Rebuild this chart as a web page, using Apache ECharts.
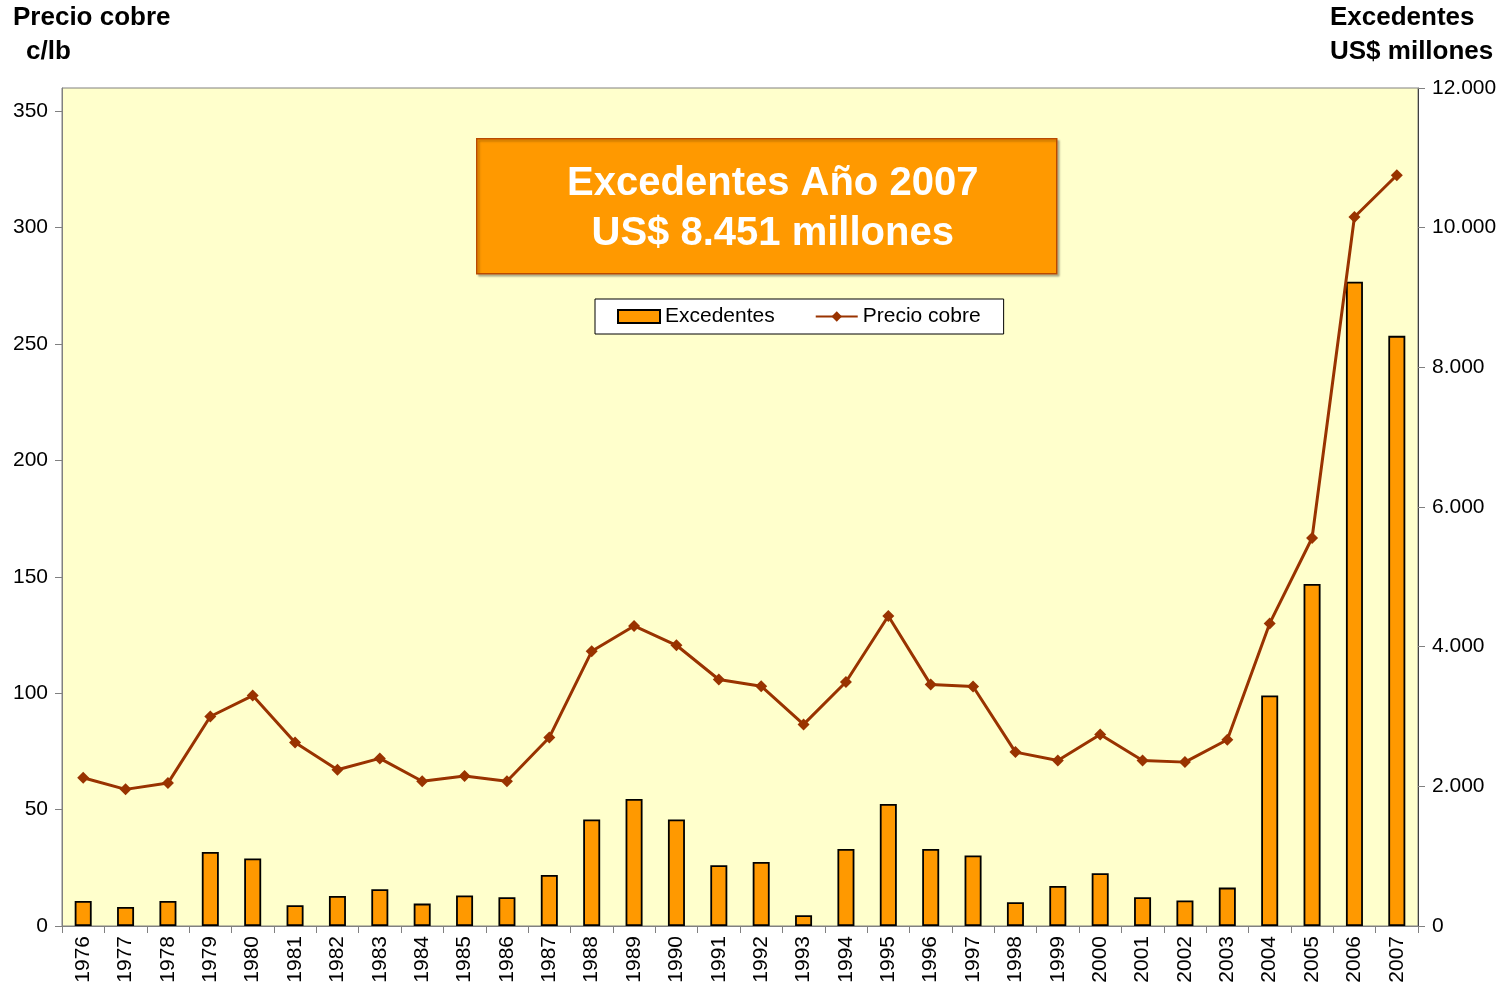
<!DOCTYPE html>
<html>
<head>
<meta charset="utf-8">
<script src="https://cdn.jsdelivr.net/npm/echarts@6/dist/echarts.min.js"></script>
<style>
  html, body { margin: 0; padding: 0; background: #fff; }
  #chart { width: 1503px; height: 990px; }
</style>
</head>
<body>
<div id="chart"></div>
<script>
const years = ['1976', '1977', '1978', '1979', '1980', '1981', '1982', '1983', '1984', '1985',
  '1986', '1987', '1988', '1989', '1990', '1991', '1992', '1993', '1994', '1995', '1996',
  '1997', '1998', '1999', '2000', '2001', '2002', '2003', '2004', '2005', '2006', '2007']

// Excedentes, US$ millones (right axis)
const excedentes = [358, 272, 358, 1060, 966, 297, 430, 526, 321, 436,
  411, 731, 1525, 1820, 1525, 870, 917, 153, 1103, 1748, 1103,
  1009, 340, 573, 755, 411, 366, 550, 3302, 4897, 9225, 8451]

// Precio cobre, c/lb (left axis)
const precioCobre = [63.7, 58.7, 61.4, 90.0, 99.0, 78.8, 67.1, 72.0, 62.2, 64.4,
  62.2, 81.0, 118.0, 128.9, 120.6, 105.9, 103.0, 86.6, 104.8, 133.2, 103.7,
  102.9, 74.7, 71.1, 82.3, 71.1, 70.4, 80.0, 130.0, 166.7, 304.6, 322.5]

const leftTicks = [0, 50, 100, 150, 200, 250, 300, 350]
const rightTicks = [0, 2000, 4000, 6000, 8000, 10000, 12000]

const font = '"Liberation Sans", Arial, sans-serif'
const axisColor = '#808080'

const chart = echarts.init(document.getElementById('chart'))

const option = {
  animation: false,
  textStyle: { fontFamily: font },
  grid: {
    left: 62, right: 85, top: 88, bottom: 64,
    show: true,
    backgroundColor: '#FFFFCC',
    borderColor: axisColor,
    borderWidth: 1,
  },
  legend: {
    left: 595,
    top: 299,
    padding: [7, 23, 7, 22],
    itemGap: 40,
    itemWidth: 42,
    itemHeight: 13,
    backgroundColor: '#ffffff',
    borderColor: '#000000',
    borderWidth: 1,
    borderRadius: 0,
    textStyle: { fontFamily: font, fontSize: 21, color: '#000' },
    data: [{ name: 'Excedentes', icon: 'rect' }, { name: 'Precio cobre' }],
  },
  xAxis: {
    type: 'category',
    data: years,
    boundaryGap: true,
    axisLine: { lineStyle: { color: axisColor, width: 1 } },
    axisTick: { show: true, length: 7, lineStyle: { color: axisColor } },
    axisLabel: { rotate: 90, fontSize: 21, color: '#000', margin: 10, interval: 0 },
    splitLine: { show: false },
  },
  yAxis: [
    {
      type: 'value',
      min: 0,
      max: 360,
      interval: 50,
      position: 'left',
      axisLine: { show: true, lineStyle: { color: axisColor } },
      axisTick: { show: true, length: 7, lineStyle: { color: axisColor }, customValues: leftTicks },
      axisLabel: { fontSize: 21, color: '#000', margin: 14, customValues: leftTicks },
      splitLine: { show: false },
    },
    {
      type: 'value',
      min: 0,
      max: 12000,
      interval: 2000,
      position: 'right',
      axisLine: { show: true, lineStyle: { color: '#404040' } },
      axisTick: { show: true, length: 7, lineStyle: { color: axisColor }, customValues: rightTicks },
      axisLabel: {
        fontSize: 21,
        color: '#000',
        margin: 14,
        customValues: rightTicks,
        formatter: (v) => String(v).replace(/\B(?=(\d{3})+(?!\d))/g, '.'),
      },
      splitLine: { show: false },
    },
  ],
  series: [
    {
      name: 'Excedentes',
      type: 'bar',
      yAxisIndex: 1,
      data: excedentes,
      barWidth: 17,
      itemStyle: { color: '#FF9900', borderColor: '#000000', borderWidth: 1.8 },
    },
    {
      name: 'Precio cobre',
      type: 'line',
      yAxisIndex: 0,
      data: precioCobre,
      symbol: 'diamond',
      symbolSize: 12,
      lineStyle: { color: '#993300', width: 3 },
      itemStyle: { color: '#993300' },
      z: 5,
    },
  ],
  graphic: [
    {
      type: 'text', left: 13, top: 5,
      style: { text: 'Precio cobre', font: 'bold 26px ' + font, fill: '#000' },
    },
    {
      type: 'text', left: 26, top: 39,
      style: { text: 'c/lb', font: 'bold 26px ' + font, fill: '#000' },
    },
    {
      type: 'text', left: 1330, top: 5,
      style: { text: 'Excedentes', font: 'bold 26px ' + font, fill: '#000' },
    },
    {
      type: 'text', left: 1330, top: 39,
      style: { text: 'US$ millones', font: 'bold 26px ' + font, fill: '#000' },
    },
    {
      type: 'group',
      left: 476,
      top: 138,
      z: 10,
      children: [
        {
          type: 'rect',
          shape: { x: 0, y: 0, width: 580, height: 135 },
          style: {
            fill: '#FF9900', stroke: '#B84A00', lineWidth: 1.5,
            shadowColor: 'rgba(0,0,0,0.25)', shadowOffsetX: 2, shadowOffsetY: 2, shadowBlur: 2,
          },
        },
        {
          type: 'text',
          x: 296, y: 45,
          style: {
            text: 'Excedentes Año 2007', font: 'bold 40px ' + font, fill: '#ffffff',
            align: 'center', verticalAlign: 'middle',
          },
        },
        {
          type: 'text',
          x: 296, y: 95,
          style: {
            text: 'US$ 8.451 millones', font: 'bold 40px ' + font, fill: '#ffffff',
            align: 'center', verticalAlign: 'middle',
          },
        },
      ],
    },
  ],
}

chart.setOption(option)
</script>
</body>
</html>
